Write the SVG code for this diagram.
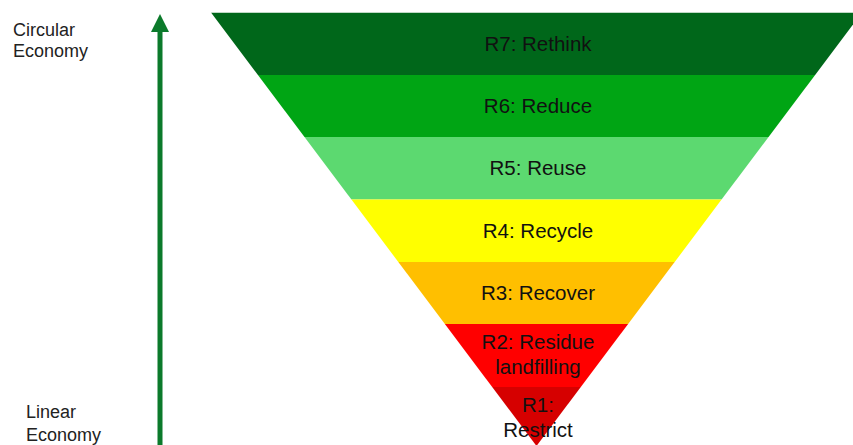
<svg xmlns="http://www.w3.org/2000/svg" width="853" height="445" viewBox="0 0 853 445">
  <style>
    .band-label { font-family: "Liberation Sans", Arial, sans-serif; font-size: 20.5px; fill: #111; text-anchor: middle; }
    .side-label { font-family: "Liberation Sans", Arial, sans-serif; font-size: 18px; fill: #222; }
  </style>
  <defs>
    <clipPath id="tri">
      <polygon points="211,12.5 862,12.5 536.5,446"/>
    </clipPath>
  </defs>
  <rect width="853" height="445" fill="#ffffff"/>
  <g id="pyramid" clip-path="url(#tri)">
    <g id="r7"><rect x="200" y="12.5" width="680" height="62.5" fill="#00671a"/></g>
    <g id="r6"><rect x="200" y="75" width="680" height="62" fill="#00a514"/></g>
    <g id="r5"><rect x="200" y="137" width="680" height="62.5" fill="#5cd970"/></g>
    <g id="r4"><rect x="200" y="199.5" width="680" height="62.5" fill="#ffff00"/></g>
    <g id="r3"><rect x="200" y="262" width="680" height="62" fill="#ffbf00"/></g>
    <g id="r2"><rect x="200" y="324" width="680" height="63" fill="#ff0000"/></g>
    <g id="r1"><rect x="200" y="387" width="680" height="60" fill="#d60000"/></g>
  </g>
  <g id="labels">
    <text class="band-label" x="538" y="51">R7: Rethink</text>
    <text class="band-label" x="538" y="112.5">R6: Reduce</text>
    <text class="band-label" x="538" y="175">R5: Reuse</text>
    <text class="band-label" x="538" y="237.5">R4: Recycle</text>
    <text class="band-label" x="538" y="299.5">R3: Recover</text>
    <text class="band-label" x="538" y="349">R2: Residue</text>
    <text class="band-label" x="538" y="374">landfilling</text>
    <text class="band-label" x="538" y="412">R1:</text>
    <text class="band-label" x="538" y="437">Restrict</text>
  </g>
  <g id="connectors">
    <line x1="160" y1="30" x2="160" y2="445" stroke="#0b7a2b" stroke-width="5"/>
    <polygon points="160,14 169,32 151,32" fill="#0b7a2b"/>
  </g>
  <g id="circular-label">
    <text class="side-label" x="13" y="36">Circular</text>
    <text class="side-label" x="13" y="57">Economy</text>
  </g>
  <g id="linear-label">
    <text class="side-label" x="26" y="418">Linear</text>
    <text class="side-label" x="26" y="441">Economy</text>
  </g>
</svg>
